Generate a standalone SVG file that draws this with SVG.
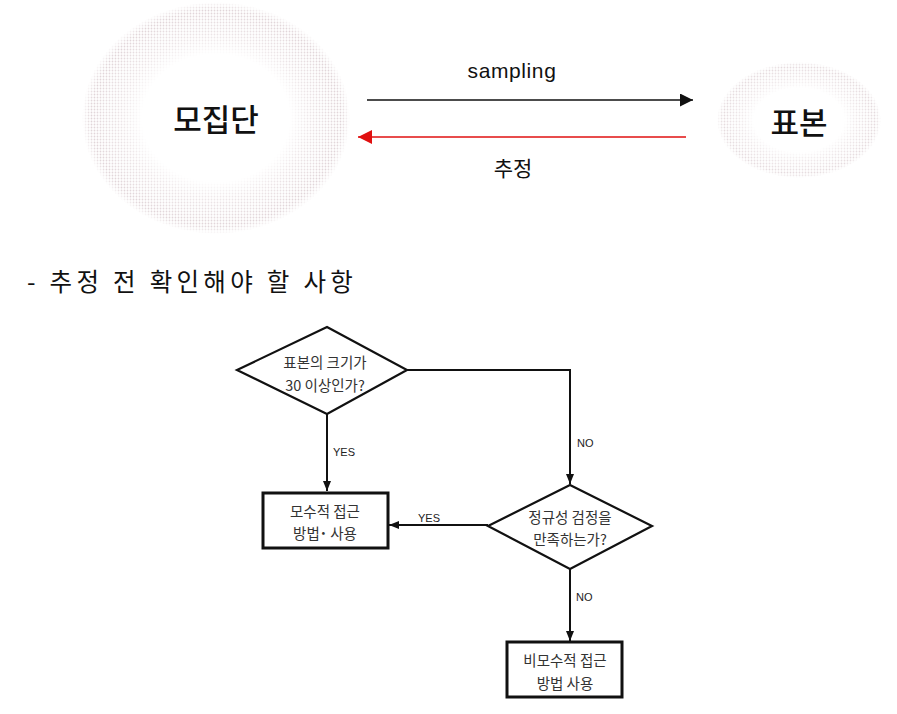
<svg xmlns="http://www.w3.org/2000/svg" width="897" height="714" viewBox="0 0 897 714">
<style>
.ko{font-family:"Noto Sans CJK KR","Noto Sans",sans-serif;fill:#111}
.en{font-family:"Liberation Sans",Arial,sans-serif;fill:#111}
.lbl{font-family:"Liberation Sans",Arial,sans-serif;font-size:11px;fill:#222}
.fc{fill:none;stroke:#111;stroke-width:2}
.node{fill:#fff;stroke:#111;stroke-width:2.2}
.box{fill:#fff;stroke:#111;stroke-width:3}
.ft{font-family:"Noto Sans CJK KR","Noto Sans",sans-serif;font-size:14.5px;fill:#333;text-anchor:middle}
</style>
<defs>
<pattern id="dots" width="3" height="3" patternUnits="userSpaceOnUse">
<rect width="3" height="3" fill="#fff"/>
<circle cx="1.5" cy="1.5" r="0.9" fill="#d6c6cb"/>
</pattern>
<radialGradient id="ring">
<stop offset="0" stop-color="#000"/>
<stop offset="0.55" stop-color="#000"/>
<stop offset="0.8" stop-color="#fff" stop-opacity="0.55"/>
<stop offset="0.93" stop-color="#fff" stop-opacity="0.75"/>
<stop offset="1" stop-color="#000"/>
</radialGradient>
<mask id="m1" maskContentUnits="objectBoundingBox">
<rect width="1" height="1" fill="url(#ring)"/>
</mask>
<marker id="ah" viewBox="0 0 10 10" refX="10" refY="5" markerWidth="10" markerHeight="10" markerUnits="userSpaceOnUse" orient="auto">
<path d="M0,1 L10,5 L0,9 z" fill="#111"/>
</marker>
<marker id="ahBig" viewBox="0 0 12 12" refX="12" refY="6" markerWidth="13" markerHeight="13" markerUnits="userSpaceOnUse" orient="auto">
<path d="M0,0 L12,6 L0,12 z" fill="#111"/>
</marker>
<marker id="ahRed" viewBox="0 0 12 12" refX="12" refY="6" markerWidth="14" markerHeight="14" markerUnits="userSpaceOnUse" orient="auto">
<path d="M0,0 L12,6 L0,12 z" fill="#e01010"/>
</marker>
</defs>
<rect width="897" height="714" fill="#fff"/>

<g id="population">
<ellipse cx="216" cy="118" rx="134" ry="116" fill="url(#dots)" mask="url(#m1)"/>
<text class="ko" x="216" y="131" font-size="31" font-weight="500" text-anchor="middle">모집단</text>
</g>
<g id="sample">
<ellipse cx="799" cy="120" rx="82" ry="58" fill="url(#dots)" mask="url(#m1)" opacity="0.85"/>
<text class="ko" x="799" y="134" font-size="31" font-weight="500" text-anchor="middle">표본</text>
</g>

<g id="top-connectors">
<line x1="367" y1="100" x2="693" y2="100" stroke="#111" stroke-width="1.6" marker-end="url(#ahBig)"/>
<text class="en" x="512" y="78" font-size="21" text-anchor="middle" letter-spacing="0.6">sampling</text>
<line x1="686" y1="137" x2="358" y2="137" stroke="#e01010" stroke-width="1.3" marker-end="url(#ahRed)"/>
<text class="ko" x="513" y="176" font-size="21" text-anchor="middle" fill="#222">추정</text>
</g>

<text class="ko" x="27" y="291" font-size="24.5" letter-spacing="4.3">- 추정 전 확인해야 할 사항</text>

<g id="connectors">
<path class="fc" d="M327,414 L327,491" marker-end="url(#ah)"/>
<text class="lbl" x="333" y="456">YES</text>
<path class="fc" d="M406,370 L570,370 L570,484" marker-end="url(#ah)"/>
<text class="lbl" x="577" y="447">NO</text>
<path class="fc" d="M488,525 L389,525" marker-end="url(#ah)"/>
<text class="lbl" x="418" y="522">YES</text>
<path class="fc" d="M570,569 L570,641" marker-end="url(#ah)"/>
<text class="lbl" x="576" y="601">NO</text>
</g>

<g id="d1">
<polygon class="node" points="327,327 407,370 327,414 237,370"/>
<text class="ft" x="325" y="368">표본의 크기가</text>
<text class="ft" x="325" y="391">30 이상인가?</text>
</g>
<g id="b1">
<rect class="box" x="263" y="493" width="125" height="55"/>
<text class="ft" x="325" y="517">모수적 접근</text>
<text class="ft" x="325" y="539">방법˙ 사용</text>
</g>
<g id="d2">
<polygon class="node" points="570,485 652,526 570,569 488,526"/>
<text class="ft" x="570" y="523">정규성 검정을</text>
<text class="ft" x="570" y="545">만족하는가?</text>
</g>
<g id="b2">
<rect class="box" x="507" y="642" width="115" height="55"/>
<text class="ft" x="565" y="666">비모수적 접근</text>
<text class="ft" x="565" y="689">방법 사용</text>
</g>
</svg>
